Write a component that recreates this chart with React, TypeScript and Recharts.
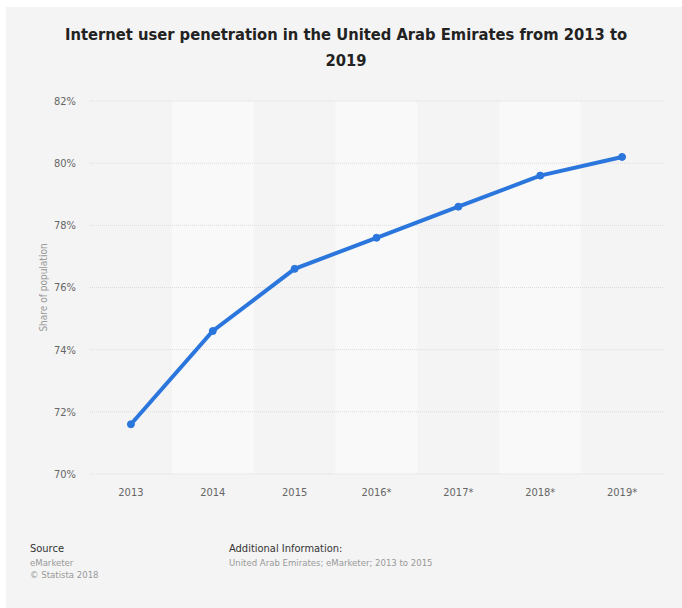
import { LineChart, Line, XAxis, YAxis, CartesianGrid, ReferenceArea } from "recharts";

const years = ["2013", "2014", "2015", "2016*", "2017*", "2018*", "2019*"];
const penetration = [71.6, 74.6, 76.6, 77.6, 78.6, 79.6, 80.2];
const yTicks = [70, 72, 74, 76, 78, 80, 82];

const data = years.map((year, i) => ({ idx: i, year, value: penetration[i] }));

const FONT = "'DejaVu Sans Condensed', 'DejaVu Sans', sans-serif";

export default function App() {
  return (
    <div style={{ position: "fixed", left: 0, top: 0, width: 682, height: 608, background: "#fff", fontFamily: FONT }}>
      <div style={{ position: "absolute", left: 6, top: 7, width: 676, height: 601, background: "#f4f4f4" }} />
      <div
        style={{
          position: "absolute",
          left: 46,
          top: 22,
          width: 600,
          textAlign: "center",
          fontSize: 16.4,
          fontWeight: "bold",
          lineHeight: "26px",
          color: "#222"
        }}
      >
        Internet user penetration in the United Arab Emirates from 2013 to 2019
      </div>
      <div style={{ position: "absolute", left: 0, top: 0 }}>
        <LineChart width={682} height={608} data={data} margin={{ top: 101, right: 19, bottom: 104, left: 0 }}>
          {data
            .filter((d) => d.idx % 2 === 1)
            .map((d) => (
              <ReferenceArea
                key={d.year}
                x1={d.idx - 0.5}
                x2={d.idx + 0.5}
                y1={70}
                y2={82}
                fill="#f9f9f9"
                fillOpacity={1}
                stroke="none"
                ifOverflow="hidden"
                zIndex={-200}
              />
            ))}
          <CartesianGrid vertical={false} stroke="#dcdcdc" strokeDasharray="1 1" />
          <XAxis
            dataKey="idx"
            type="number"
            domain={[-0.5, 6.5]}
            ticks={data.map((d) => d.idx)}
            tickFormatter={(i: number) => years[i]}
            height={30}
            axisLine={false}
            tickLine={false}
            tickSize={0}
            tickMargin={14}
            tick={{ fill: "#666", fontSize: 11, fontFamily: FONT }}
          />
          <YAxis
            domain={[70, 82]}
            ticks={yTicks}
            tickFormatter={(v: number) => `${v}%`}
            width={90}
            axisLine={false}
            tickLine={false}
            tickSize={0}
            tickMargin={14}
            tick={{ fill: "#666", fontSize: 11, fontFamily: FONT }}
            label={{
              value: "Share of population",
              angle: -90,
              position: "insideLeft",
              offset: 43,
              style: { fill: "#999", fontSize: 10, fontFamily: FONT, textAnchor: "middle" }
            }}
          />
          <Line
            type="linear"
            dataKey="value"
            stroke="#2a76dd"
            strokeWidth={4}
            dot={{ r: 3.5, fill: "#2a76dd", stroke: "#2a76dd", strokeWidth: 1 }}
            activeDot={false}
            isAnimationActive={false}
          />
        </LineChart>
      </div>
      <div style={{ position: "absolute", left: 30, top: 542, fontSize: 11, color: "#333" }}>Source</div>
      <div style={{ position: "absolute", left: 30, top: 557, fontSize: 9.5, color: "#999", lineHeight: "12px" }}>
        eMarketer
        <br />© Statista 2018
      </div>
      <div style={{ position: "absolute", left: 229, top: 542, fontSize: 11, color: "#333" }}>Additional Information:</div>
      <div style={{ position: "absolute", left: 229, top: 557, fontSize: 9.5, color: "#999" }}>
        United Arab Emirates; eMarketer; 2013 to 2015
      </div>
    </div>
  );
}
